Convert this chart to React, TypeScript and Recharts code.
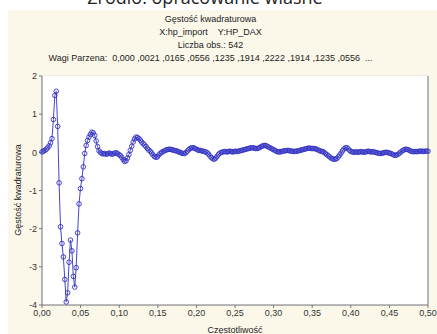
import React from "react";
import {
  LineChart,
  Line,
  XAxis,
  YAxis,
  CartesianGrid,
} from "recharts";

// quadrature spectral density, one value per Fourier frequency k/542
const OBS_COUNT = 542;
const density = [
  0.01, 0.03, 0.05, 0.08, 0.12, 0.17, 0.25, 0.36, 0.86, 1.49,
  1.60, 0.68, -0.80, -1.95, -2.39, -2.74, -3.33, -3.92, -3.68, -2.88,
  -2.30, -2.58, -3.25, -3.53, -3.02, -2.11, -1.35, -0.95, -0.69, -0.38,
  -0.03, 0.18, 0.31, 0.40, 0.47, 0.53, 0.51, 0.44, 0.30, 0.15,
  0.04, 0.00, -0.03, -0.04, -0.03, -0.05, -0.04, -0.02, -0.03, -0.05,
  -0.04, -0.02, -0.01, -0.03, -0.06, -0.08, -0.13, -0.19, -0.24, -0.22,
  -0.15, -0.06, 0.05, 0.16, 0.27, 0.35, 0.40, 0.39, 0.36, 0.32,
  0.27, 0.23, 0.19, 0.15, 0.10, 0.06, 0.03, -0.02, -0.07, -0.11,
  -0.13, -0.12, -0.07, -0.03, 0.00, 0.02, 0.04, 0.06, 0.07, 0.08,
  0.08, 0.07, 0.06, 0.05, 0.04, 0.03, 0.01, 0.00, -0.02, -0.03,
  -0.03, -0.01, 0.03, 0.07, 0.10, 0.12, 0.12, 0.11, 0.09, 0.07,
  0.05, 0.05, 0.04, 0.03, 0.02, 0.01, -0.01, -0.05, -0.10, -0.14,
  -0.17, -0.18, -0.15, -0.10, -0.05, -0.02, 0.00, 0.01, 0.02, 0.02,
  0.01, 0.02, 0.03, 0.02, 0.01, 0.02, 0.03, 0.02, 0.03, 0.04,
  0.05, 0.06, 0.07, 0.08, 0.09, 0.10, 0.11, 0.12, 0.12, 0.11,
  0.10, 0.10, 0.11, 0.13, 0.15, 0.17, 0.18, 0.18, 0.16, 0.14,
  0.12, 0.10, 0.08, 0.06, 0.04, 0.02, 0.01, 0.01, 0.02, 0.03,
  0.04, 0.04, 0.05, 0.05, 0.04, 0.03, 0.03, 0.02, 0.03, 0.03,
  0.04, 0.05, 0.06, 0.07, 0.08, 0.09, 0.10, 0.11, 0.11, 0.10,
  0.10, 0.10, 0.09, 0.08, 0.06, 0.04, 0.03, 0.02, 0.00, -0.03,
  -0.06, -0.09, -0.12, -0.15, -0.17, -0.18, -0.18, -0.16, -0.12, -0.07,
  -0.02, 0.04, 0.09, 0.12, 0.12, 0.09, 0.05, 0.02, 0.01, 0.00,
  0.01, 0.01, 0.00, 0.01, 0.02, 0.01, 0.00, 0.01, 0.02, 0.03,
  0.02, 0.01, 0.02, 0.01, 0.00, -0.01, -0.02, -0.03, -0.03, -0.02,
  -0.01, 0.00, 0.00, -0.01, -0.02, -0.03, -0.05, -0.07, -0.08, -0.07,
  -0.05, -0.02, 0.01, 0.04, 0.06, 0.08, 0.08, 0.07, 0.05, 0.03,
  0.02, 0.02, 0.02, 0.02, 0.02, 0.03, 0.03, 0.03, 0.02, 0.03,
  0.03, 0.03,
];

const freqTicks = [0, 0.05, 0.1, 0.15, 0.2, 0.25, 0.3, 0.35, 0.4, 0.45, 0.5];
const valueTicks = [-4, -3, -2, -1, 0, 1, 2];
const parzenWeights = [
  "0,000", ",0021", ",0165", ",0556", ",1235", ",1914", ",2222", ",1914", ",1235", ",0556",
];

const chartData = density.map((value, k) => ({ freq: k / OBS_COUNT, value }));

const FONT = "Arial, 'Liberation Sans', sans-serif";
const BG = "#fbf8ea";
const tickStyle = { fontSize: 9, fill: "#333", fontFamily: FONT };

const fmtFreq = (v: number) => v.toFixed(2).replace(".", ",");

const titleLine: React.CSSProperties = {
  position: "absolute",
  left: 0,
  width: 437,
  textAlign: "center",
  fontFamily: FONT,
  fontSize: 9,
  color: "#222",
  lineHeight: "11px",
};

export default function App() {
  return (
    <div
      style={{
        position: "absolute",
        left: 0,
        top: 0,
        width: 437,
        height: 334,
        overflow: "hidden",
        background: "#fff",
      }}
    >
      <div
        style={{
          position: "absolute",
          left: 8,
          top: 10,
          width: 429,
          height: 324,
          background: BG,
        }}
      />
      <div
        style={{
          position: "absolute",
          left: 0,
          width: 410,
          top: -14,
          textAlign: "center",
          fontFamily: "'Open Sans', sans-serif",
          fontSize: 18,
          color: "#222",
          lineHeight: "22px",
        }}
      >
        Źródło: opracowanie własne
      </div>
      <div style={{ ...titleLine, top: 14, left: -8 }}>Gęstość kwadraturowa</div>
      <div style={{ ...titleLine, top: 27, left: -8, whiteSpace: "pre" }}>
        {"X:hp_import    Y:HP_DAX"}
      </div>
      <div style={{ ...titleLine, top: 40, left: -8 }}>Liczba obs.: {OBS_COUNT}</div>
      <div style={{ ...titleLine, top: 53, left: -8, whiteSpace: "pre" }}>
        {"Wagi Parzena:  " + parzenWeights.join(" ") + "  ..."}
      </div>

      <div style={{ position: "absolute", left: 0, top: 0 }}>
        <LineChart
          width={437}
          height={334}
          data={chartData}
          margin={{ top: 76, right: 0, bottom: 0, left: 12 }}
        >
          <rect x={42} y={76} width={386} height={229} fill="#fff" />
          <CartesianGrid stroke="#dcdcdc" fill="#fff" />
          <XAxis
            dataKey="freq"
            type="number"
            domain={[0, 0.5]}
            ticks={freqTicks}
            tickFormatter={fmtFreq}
            tick={tickStyle}
            tickSize={3}
            tickMargin={2}
            height={29}
            stroke="#777"
            interval={0}
          />
          <XAxis
            xAxisId="top"
            orientation="top"
            dataKey="freq"
            type="number"
            domain={[0, 0.5]}
            tick={false}
            tickLine={false}
            height={0}
            stroke="#777"
          />
          <YAxis
            type="number"
            domain={[-4, 2]}
            ticks={valueTicks}
            tick={tickStyle}
            tickSize={3}
            tickMargin={2}
            width={30}
            stroke="#777"
            interval={0}
          />
          <YAxis
            yAxisId="right"
            orientation="right"
            type="number"
            domain={[-4, 2]}
            ticks={valueTicks}
            tick={tickStyle}
            tickSize={3}
            tickMargin={1}
            width={9}
            stroke="#777"
            interval={0}
          />
          <Line
            dataKey="value"
            type="linear"
            stroke="#4646cc"
            strokeWidth={1}
            dot={{ r: 2.3, stroke: "#3232c4", strokeWidth: 0.9, fill: "none" }}
            isAnimationActive={false}
          />
        </LineChart>
      </div>

      <div
        style={{
          position: "absolute",
          left: 18 - 60,
          top: 190 - 6,
          width: 120,
          textAlign: "center",
          fontFamily: FONT,
          fontSize: 9,
          color: "#222",
          lineHeight: "12px",
          transform: "rotate(-90deg)",
        }}
      >
        Gęstość kwadraturowa
      </div>
      <div
        style={{
          position: "absolute",
          left: 185,
          top: 324,
          width: 100,
          textAlign: "center",
          fontFamily: FONT,
          fontSize: 9,
          color: "#222",
          lineHeight: "12px",
        }}
      >
        Częstotliwość
      </div>
    </div>
  );
}
